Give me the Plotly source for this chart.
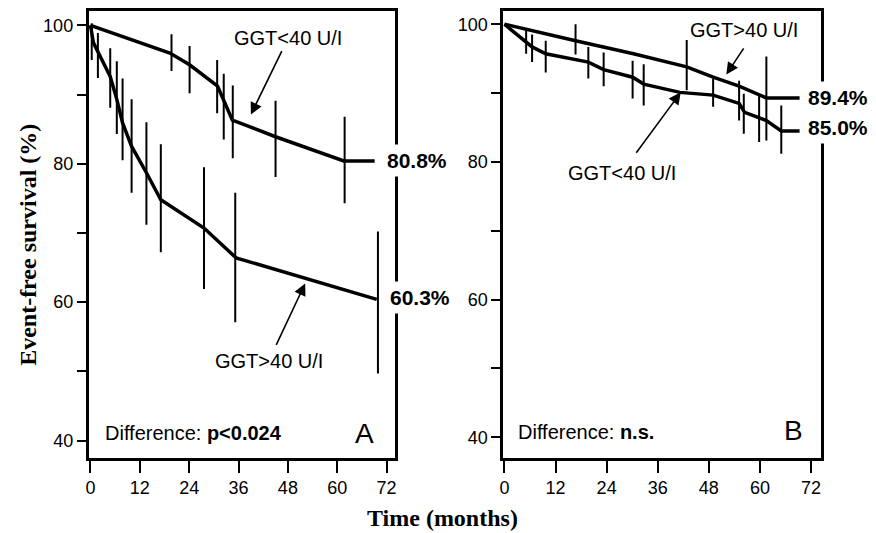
import plotly.graph_objects as go

# ---------------- DATA ----------------
# Panel A
a_lt40_t = [0, 19.3, 24.1, 30.9, 34.5, 45.0, 61.6, 69.1]
a_lt40_s = [100, 96.0, 94.3, 91.2, 86.3, 83.9, 80.4, 80.4]
a_lt40_bar_t = [19.7, 24.1, 30.8, 32.4, 34.6, 45.0, 61.8]
a_lt40_bar_hi = [98.7, 97.0, 95.0, 93.0, 91.3, 89.1, 86.8]
a_lt40_bar_lo = [93.4, 90.2, 87.3, 83.5, 80.8, 78.1, 74.3]

a_gt40_t = [0, 0.7, 4.8, 6.4, 7.8, 10.0, 13.6, 17.1, 27.6, 35.4, 69.6]
a_gt40_s = [100, 97.5, 92.6, 89.3, 85.9, 82.5, 78.7, 74.8, 70.7, 66.4, 60.4]
a_gt40_bar_t = [0.3, 1.8, 4.8, 6.4, 7.8, 10.0, 13.6, 17.1, 27.6, 35.2, 69.9]
a_gt40_bar_hi = [100.3, 98.9, 96.7, 94.8, 92.3, 89.3, 86.0, 82.8, 79.5, 75.8, 70.2]
a_gt40_bar_lo = [95.0, 92.4, 88.1, 84.3, 80.5, 75.8, 71.2, 67.2, 61.9, 57.1, 49.7]

# Panel B
b_gt40_t = [0, 9.3, 16.7, 30.3, 42.8, 49.0, 55.1, 61.5, 69.3]
b_gt40_s = [100, 98.6, 97.6, 95.7, 93.8, 92.3, 91.0, 89.3, 89.3]
b_gt40_bar_t = [16.7, 42.8, 61.5]
b_gt40_bar_hi = [100.0, 97.7, 95.3]
b_gt40_bar_lo = [95.6, 90.4, 83.1]

b_lt40_t = [0, 5.1, 6.5, 9.7, 19.7, 23.3, 30.1, 32.7, 41.2, 49.0, 55.1, 56.4, 61.5, 65.0, 69.3]
b_lt40_s = [100, 97.4, 96.7, 95.7, 94.5, 93.4, 92.3, 91.3, 90.1, 89.7, 88.5, 87.2, 86.0, 84.5, 84.5]
b_lt40_bar_t = [5.1, 6.5, 9.7, 19.7, 23.3, 30.1, 32.7, 49.0, 55.1, 56.2, 59.8, 65.0]
b_lt40_bar_hi = [99.1, 98.5, 97.6, 96.7, 95.9, 94.7, 94.2, 92.1, 91.8, 89.9, 89.7, 88.2]
b_lt40_bar_lo = [95.7, 94.5, 93.0, 92.1, 91.0, 89.2, 88.2, 88.0, 86.0, 84.1, 82.9, 81.2]

final_labels_a = ["80.8%", "60.3%"]
final_labels_b = ["89.4%", "85.0%"]
group_labels = ["GGT<40 U/I", "GGT>40 U/I"]
x_ticks = [0, 12, 24, 36, 48, 60, 72]
y_ticks = [40, 50, 60, 70, 80, 90, 100]
y_ticktext = ["40", "", "60", "", "80", "", "100"]

# ---------------- FIGURE ----------------
SANS = "Liberation Sans, Arial, Helvetica, sans-serif"
SERIF = "Liberation Serif, Times New Roman, serif"


def segs(ts, lo, hi):
    xs, ys = [], []
    for t, l, h in zip(ts, lo, hi):
        xs += [t, t, None]
        ys += [l, h, None]
    return xs, ys


fig = go.Figure()


def add_curve(t, s, xa, ya):
    fig.add_trace(go.Scatter(x=t, y=s, mode="lines", xaxis=xa, yaxis=ya,
                             line=dict(color="black", width=3.5),
                             showlegend=False, hoverinfo="skip", cliponaxis=False))


def add_bars(t, lo, hi, xa, ya):
    xs, ys = segs(t, lo, hi)
    fig.add_trace(go.Scatter(x=xs, y=ys, mode="lines", xaxis=xa, yaxis=ya,
                             line=dict(color="black", width=2),
                             showlegend=False, hoverinfo="skip", cliponaxis=False))


add_curve(a_lt40_t, a_lt40_s, "x", "y")
add_bars(a_lt40_bar_t, a_lt40_bar_lo, a_lt40_bar_hi, "x", "y")
add_curve(a_gt40_t, a_gt40_s, "x", "y")
add_bars(a_gt40_bar_t, a_gt40_bar_lo, a_gt40_bar_hi, "x", "y")

add_curve(b_gt40_t, b_gt40_s, "x2", "y2")
add_bars(b_gt40_bar_t, b_gt40_bar_lo, b_gt40_bar_hi, "x2", "y2")
add_curve(b_lt40_t, b_lt40_s, "x2", "y2")
add_bars(b_lt40_bar_t, b_lt40_bar_lo, b_lt40_bar_hi, "x2", "y2")

ydom = [1 - 458 / 533, 1 - 10.5 / 533]

xcommon = dict(showline=True, linecolor="black", linewidth=2.5, mirror=True,
               ticks="outside", ticklen=12, tickwidth=2, tickcolor="black",
               tickvals=x_ticks, showgrid=False, zeroline=False,
               tickfont=dict(family=SANS, size=18, color="black"))
ycommon = dict(showline=True, linecolor="black", linewidth=2.5, mirror=True,
               ticks="outside", ticklen=9, tickwidth=1.5, tickcolor="black",
               tickvals=y_ticks, ticktext=y_ticktext, showgrid=False, zeroline=False,
               tickfont=dict(family=SANS, size=18, color="black"), domain=ydom)

fig.update_layout(
    width=876, height=533,
    margin=dict(l=0, r=0, t=0, b=0),
    paper_bgcolor="white", plot_bgcolor="white",
    xaxis=dict(xcommon, domain=[85 / 876, 393.3 / 876], range=[-0.48, 74.06], anchor="y"),
    yaxis=dict(ycommon, range=[37.48, 102.14], anchor="x"),
    xaxis2=dict(xcommon, domain=[502 / 876, 822 / 876], range=[-0.3, 74.4], anchor="y2"),
    yaxis2=dict(ycommon, range=[37.0, 101.99], anchor="x2"),
)

ann = []


def text(x, y, s, xref, yref, size=20, bold=False, xanchor="center", bg=None, family=SANS):
    d = dict(x=x, y=y, xref=xref, yref=yref, text=s, showarrow=False,
             xanchor=xanchor, yanchor="middle",
             font=dict(family=family, size=size, color="black"))
    if bg:
        d.update(bgcolor=bg, borderpad=4)
    ann.append(d)


def arrow(tx, ty, hx, hy, xref, yref):
    ann.append(dict(x=hx, y=hy, ax=tx, ay=ty, xref=xref, yref=yref,
                    axref=xref, ayref=yref, text="", showarrow=True,
                    arrowhead=2, arrowsize=1.5, arrowwidth=1.6, arrowcolor="black",
                    standoff=0, startstandoff=0))


# Panel A texts
text(48.1, 98.2, group_labels[0], "x", "y")
arrow(46.7, 96.5, 39.0, 87.1, "x", "y")
text(43.3, 51.5, group_labels[1], "x", "y")
arrow(45.0, 53.6, 52.2, 62.7, "x", "y")
text(71.0, a_lt40_s[-1], "<b>%s</b>" % final_labels_a[0], "x", "y", size=21, xanchor="left", bg="white")
text(71.5, 60.6, "<b>%s</b>" % final_labels_a[1], "x", "y", size=21, xanchor="left", bg="white")
text(3.1, 41.1, "Difference: <b>p&lt;0.024</b>", "x", "y", xanchor="left")
text(66.7, 41.0, "A", "x", "y", size=28)

# Panel B texts
text(56.2, 99.2, group_labels[1], "x2", "y2")
arrow(56.4, 96.7, 52.1, 92.7, "x2", "y2")
text(27.6, 78.4, group_labels[0], "x2", "y2")
arrow(30.7, 81.1, 41.4, 90.1, "x2", "y2")
text(70.0, 89.3, "<b>%s</b>" % final_labels_b[0], "x2", "y2", size=21, xanchor="left", bg="white")
text(70.0, 85.0, "<b>%s</b>" % final_labels_b[1], "x2", "y2", size=21, xanchor="left", bg="white")
text(2.7, 40.8, "Difference: <b>n.s.</b>", "x2", "y2", xanchor="left")
text(67.9, 41.0, "B", "x2", "y2", size=28)

# Axis titles
ann.append(dict(x=24 / 876, y=1 - 245 / 533, xref="paper", yref="paper",
                text="<b>Event-free survival (%)</b>", textangle=-90, showarrow=False,
                font=dict(family=SERIF, size=24, color="black"),
                xanchor="center", yanchor="middle"))
ann.append(dict(x=441 / 876, y=1 - 518 / 533, xref="paper", yref="paper",
                text="<b>Time (months)</b>", showarrow=False,
                font=dict(family=SERIF, size=24, color="black"),
                xanchor="center", yanchor="middle"))

fig.update_layout(annotations=ann)

fig.write_html("out.html", config={"displayModeBar": False},
               post_script="document.body.style.margin='0px';document.body.style.overflow='hidden';")
